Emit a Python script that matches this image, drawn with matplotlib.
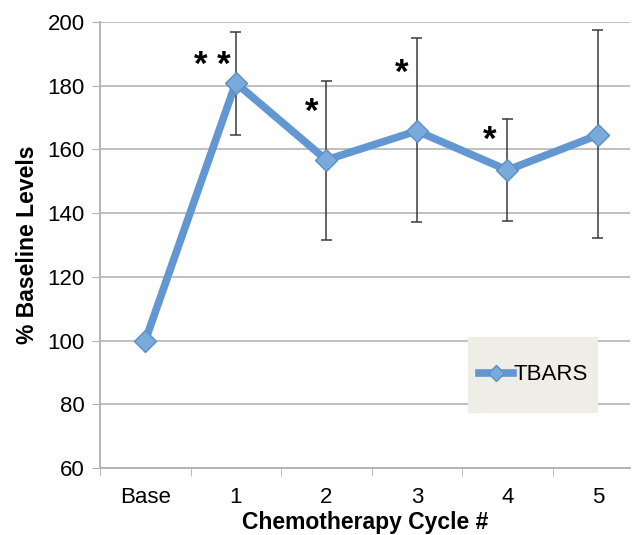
import matplotlib
matplotlib.use('Agg')
import matplotlib.pyplot as plt
from matplotlib.patches import Rectangle

plt.rcParams['font.family'] = ['Liberation Sans', 'DejaVu Sans']

cycles = ['Base', '1', '2', '3', '4', '5']
tbars = [100, 180.9, 156.7, 165.8, 153.5, 164.5]
err_low = [None, 164.5, 131.6, 137.2, 137.5, 132.2]
err_high = [None, 196.8, 181.5, 194.9, 169.6, 197.5]
stars = ['', '* *', '*', '*', '*', '']

x = list(range(len(cycles)))
fig = plt.figure(figsize=(6.34, 5.35), dpi=100)
ax = fig.add_axes([100/634, 1-468/535, 530/634, 446/535])

# error bars (no error shown for baseline)
for i in x:
    if err_low[i] is None:
        continue
    ax.vlines(i, err_low[i], err_high[i], color='#3a3a3a', lw=1.1, zorder=2)
    ax.hlines([err_low[i], err_high[i]], i-0.06, i+0.06, color='#3a3a3a', lw=1.1, zorder=2)

ax.plot(x, tbars, color='#6397d1', lw=5.5, marker='D', ms=11,
        markerfacecolor='#7aa9dc', markeredgecolor='#5b8fc8', label='TBARS', zorder=3)

star_pos = {1: (0.74, 186.5), 2: (1.84, 171.5), 3: (2.83, 184), 4: (3.81, 163)}
for i, (sx, sy) in star_pos.items():
    ax.text(sx, sy, stars[i], ha='center', va='center', fontsize=25, fontweight='bold')

ax.set_ylim(60, 200)
ax.set_yticks(range(60, 201, 20))
ax.set_xlim(-0.5, 5.355)
ax.set_xticks(x)
ax.set_xticklabels(cycles)
ax.set_xticks([i - 0.5 for i in x], minor=True)
ax.tick_params(axis='x', which='major', length=0, labelsize=16, pad=14)
ax.tick_params(axis='x', which='minor', length=6, color='#b0b0b0', direction='out')
ax.tick_params(axis='y', length=6, color='#b0b0b0', labelsize=16, pad=5)
ax.yaxis.grid(True, color='#b5b5b5', lw=1.2)
ax.set_axisbelow(True)
for s in ['top', 'right']:
    ax.spines[s].set_visible(False)
for s in ['left', 'bottom']:
    ax.spines[s].set_color('#b0b0b0')
    ax.spines[s].set_linewidth(1.3)

ax.set_xlabel('Chemotherapy Cycle #', fontsize=16.5, fontweight='bold', labelpad=2)
ax.set_ylabel('% Baseline Levels', fontsize=16.5, fontweight='bold', labelpad=6)

# legend background box
ax.add_patch(Rectangle(((468-100)/530, (468-413)/446), 130/530, 76/446,
                       transform=ax.transAxes, facecolor='#efeee6', edgecolor='none', zorder=4))
leg = ax.legend(loc='center', bbox_to_anchor=((533-100)/530, 1-(375-22)/446),
                frameon=False, fontsize=16, handlelength=1.55, handletextpad=0.0,
                borderpad=0, borderaxespad=0, markerscale=0.7)
leg.set_zorder(5)

fig.savefig('out.png', dpi=100)
